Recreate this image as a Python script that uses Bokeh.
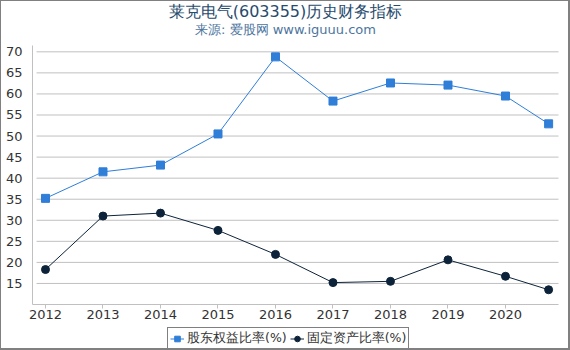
from bokeh.plotting import figure
from bokeh.models import Legend, LegendItem, Label, FixedTicker, Range1d
from bokeh.embed import file_html
from bokeh.resources import INLINE

years = [2012, 2013, 2014, 2015, 2016, 2017, 2018, 2019, 2020, 2020.75]
tick_years = [2012, 2013, 2014, 2015, 2016, 2017, 2018, 2019, 2020]
equity_ratio = [35.2, 41.5, 43.1, 50.5, 68.8, 58.3, 62.6, 62.1, 59.5, 52.9]
fixed_asset_ratio = [18.3, 31.0, 31.7, 27.6, 21.9, 15.2, 15.5, 20.6, 16.7, 13.5]
y_ticks = [15, 20, 25, 30, 35, 40, 45, 50, 55, 60, 65, 70]

FONT = "DejaVu Sans"
BLUE = "#2f7ed8"
DARK = "#0d233a"

# axis extents (data units) and full canvas ranges
Y_MIN, Y_MAX = 10, 71.5
X_AXIS_START, X_AXIS_END = 2011.774, 2020.922
GRID_START = 2011.844
X_RANGE = (2011.2348, 2021.0957)
Y_RANGE = (-0.448, 81.947)

p = figure(frame_width=567, frame_height=347, output_backend="svg", toolbar_location=None,
           x_range=Range1d(*X_RANGE), y_range=Range1d(*Y_RANGE),
           title=None, min_border_left=0, min_border_right=0,
           min_border_top=0, min_border_bottom=0)
p.styles = {"border-left": "1px solid #808080", "border-top": "1px solid #808080",
            "border-right": "2px solid #808080", "border-bottom": "2px solid #808080"}
p.outline_line_color = None
p.background_fill_color = "white"
p.border_fill_color = "white"
p.grid.visible = False

# title and subtitle
title_x = 2016.174
p.add_layout(Label(x=title_x, y=79.57, text="莱克电气(603355)历史财务指标",
                   text_align="center", text_baseline="middle", text_font=FONT,
                   text_font_size="16px", text_color="#274b6d"))
p.add_layout(Label(x=title_x, y=75.30, text="来源: 爱股网 www.iguuu.com",
                   text_align="center", text_baseline="middle", text_font=FONT,
                   text_font_size="13px", text_color="#4d759e"))

# horizontal grid lines at the y ticks
n = len(y_ticks)
p.segment(x0=[GRID_START] * n, y0=y_ticks, x1=[X_AXIS_END] * n, y1=y_ticks,
          line_color="#c0c0c0", line_width=1)

r1l = p.line(years, equity_ratio, line_color=BLUE, line_width=1)
r1m = p.scatter(years, equity_ratio, marker="square", size=8, fill_color=BLUE, line_color=BLUE)
r2l = p.line(years, fixed_asset_ratio, line_color=DARK, line_width=1)
r2m = p.scatter(years, fixed_asset_ratio, marker="circle", size=8, fill_color=DARK, line_color=DARK)

p.xaxis.ticker = FixedTicker(ticks=tick_years)
p.yaxis.ticker = FixedTicker(ticks=y_ticks)
p.xaxis.fixed_location = Y_MIN
p.yaxis.fixed_location = X_AXIS_START
p.xaxis.bounds = (X_AXIS_START, X_AXIS_END)
p.yaxis.bounds = (Y_MIN, Y_MAX)

for ax in (p.xaxis, p.yaxis):
    ax.major_label_text_font = FONT
    ax.major_label_text_font_size = "13px"
    ax.major_label_text_color = "#333333"
    ax.minor_tick_line_color = None
    ax.axis_line_color = "#c0c0c0"

p.yaxis.major_tick_line_color = None
p.yaxis.major_label_standoff = 4
p.xaxis.major_tick_line_color = "#c0c0c0"
p.xaxis.major_tick_in = 0
p.xaxis.major_tick_out = 4
p.xaxis.major_label_standoff = 2

legend = Legend(items=[LegendItem(label="股东权益比率(%)", renderers=[r1l, r1m]),
                       LegendItem(label="固定资产比率(%)", renderers=[r2l, r2m])],
                orientation="horizontal", location=(166, -2),
                border_line_color="black", border_line_width=1,
                background_fill_color="white", background_fill_alpha=1.0,
                label_text_font=FONT, label_text_font_size="12.5px",
                label_text_color="#333333", glyph_width=14, glyph_height=15,
                label_height=15, label_standoff=3, spacing=3, padding=2, margin=0)
p.add_layout(legend)

open("out.html", "w").write(file_html(p, INLINE))
